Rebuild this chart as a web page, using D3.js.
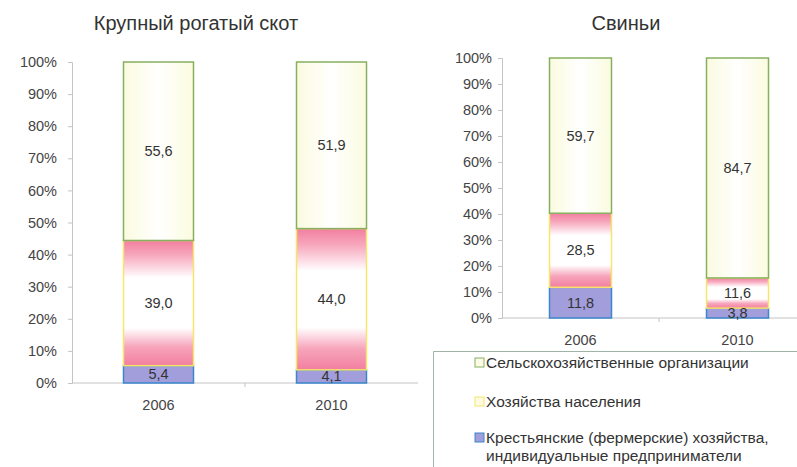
<!DOCTYPE html>
<html>
<head>
<meta charset="utf-8">
<script src="https://cdn.jsdelivr.net/npm/d3@7"></script>
<style>
  body { margin: 0; background: #fff; }
  svg { font-family: "Liberation Sans", Arial, sans-serif; }
</style>
</head>
<body>
<div id="chart"></div>
<script>
// data
const years = ["2006", "2010"];
const seriesKeys = ["farm", "house", "org"];
const seriesNames = [
    "Сельскохозяйственные организации",
    "Хозяйства населения",
    "Крестьянские (фермерские) хозяйства,|индивидуальные предприниматели"
];
const cattleFarm = [5.4, 4.1];
const cattleHouse = [39.0, 44.0];
const cattleOrg = [55.6, 51.9];
const pigsFarm = [11.8, 3.8];
const pigsHouse = [28.5, 11.6];
const pigsOrg = [59.7, 84.7];
const yTicks = [0, 10, 20, 30, 40, 50, 60, 70, 80, 90, 100];

const fills = {farm: "#a29ddb", house: "url(#pinkGrad)", org: "url(#greenGrad)"};
const strokes = {farm: "#3b86cc", house: "#f6e56a", org: "#86b060"};

const svg = d3.select("#chart")
    .append("svg")
    .attr("width", 797)
    .attr("height", 467);

// gradients
const defs = svg.append("defs");
let pink = defs.append("linearGradient")
    .attr("id", "pinkGrad")
    .attr("x1", 0).attr("y1", 0).attr("x2", 0).attr("y2", 1);
[[0, "#f27ea0"], [0.12, "#f7a9be"], [0.3, "#ffffff"], [0.7, "#ffffff"], [0.85, "#f7a5bb"], [1, "#f27ea0"]]
    .forEach(s => pink.append("stop").attr("offset", s[0]).attr("stop-color", s[1]));
let green = defs.append("linearGradient")
    .attr("id", "greenGrad")
    .attr("x1", 0).attr("y1", 0).attr("x2", 1).attr("y2", 0);
[[0, "#fbfbe0"], [0.5, "#ffffff"], [1, "#fbfbe0"]]
    .forEach(s => green.append("stop").attr("offset", s[0]).attr("stop-color", s[1]));

function drawChart(opts) {
    let rows = years.map((y, i) => ({year: y, farm: opts.farm[i], house: opts.house[i], org: opts.org[i]}));
    let stacked = d3.stack().keys(seriesKeys)(rows);

    let x = d3.scaleBand()
        .domain(years)
        .range([opts.left, opts.right]);
    let y = d3.scaleLinear()
        .domain([0, 100])
        .range([opts.bottom, opts.top])
        .clamp(true);

    let g = svg.append("g");

    // title
    g.append("text")
        .attr("x", opts.titleX)
        .attr("y", 30)
        .attr("text-anchor", "middle")
        .style("font-size", "20px")
        .style("fill", "#333")
        .text(opts.title);

    // y axis
    let yAxis = g.append("g")
        .attr("transform", "translate(" + opts.left + ",0)")
        .call(d3.axisLeft(y).tickValues(yTicks).tickSize(4).tickPadding(opts.pad).tickFormat(d => d + "%"));
    yAxis.selectAll("path, line").attr("stroke", "#c4c4c4");
    yAxis.selectAll("text").style("font-size", "14.5px").style("fill", "#444").style("font-family", "Liberation Sans, Arial, sans-serif");

    // x axis
    let xAxis = g.append("g")
        .attr("transform", "translate(0," + opts.bottom + ")");
    xAxis.append("line")
        .attr("x1", opts.left).attr("x2", opts.right)
        .attr("stroke", "#c4c4c4");
    xAxis.append("line")
        .attr("x1", x(years[1])).attr("x2", x(years[1]))
        .attr("y1", 0).attr("y2", 4)
        .attr("stroke", "#c4c4c4");
    xAxis.selectAll(".lbl")
        .data(years)
        .enter()
        .append("text")
        .attr("x", d => x(d) + x.bandwidth() / 2)
        .attr("y", opts.labelY - opts.bottom)
        .attr("text-anchor", "middle")
        .style("font-size", "14.5px")
        .style("fill", "#444")
        .text(d => d);

    let bw = opts.barW;
    // bars
    stacked.forEach(layer => {
        g.selectAll(".bar-" + layer.key)
            .data(layer)
            .enter()
            .append("rect")
            .attr("x", d => x(d.data.year) + x.bandwidth() / 2 - bw / 2)
            .attr("y", d => y(d[1]))
            .attr("width", bw)
            .attr("height", d => y(d[0]) - y(d[1]))
            .attr("fill", fills[layer.key])
            .attr("stroke", strokes[layer.key])
            .attr("stroke-width", 1.5);
    });
    // values
    stacked.forEach(layer => {
        g.selectAll(".val-" + layer.key)
            .data(layer)
            .enter()
            .append("text")
            .attr("x", d => x(d.data.year) + x.bandwidth() / 2)
            .attr("y", d => (y(d[0]) + y(d[1])) / 2 + 5)
            .attr("text-anchor", "middle")
            .style("font-size", "14.5px")
            .style("fill", "#333")
            .text(d => (d[1] - d[0]).toFixed(1).replace(".", ","));
    });
}

drawChart({
    title: "Крупный рогатый скот", titleX: 196,
    farm: cattleFarm, house: cattleHouse, org: cattleOrg,
    left: 72, right: 418, top: 62, bottom: 383, barW: 70, pad: 11, labelY: 410
});
drawChart({
    title: "Свиньи", titleX: 626,
    farm: pigsFarm, house: pigsHouse, org: pigsOrg,
    left: 502, right: 816, top: 58, bottom: 318, barW: 62, pad: 6, labelY: 345
});

// legend
let legend = svg.append("g");
legend.append("path")
    .attr("d", "M433.5,467 V351.5 H797")
    .attr("fill", "none")
    .attr("stroke", "#9fb3a6");

let legendItems = [
    {name: seriesNames[0], fill: "#fbfbe6", stroke: "#86b060", y: 368},
    {name: seriesNames[1], fill: "#fffbe0", stroke: "#f6e56a", y: 407},
    {name: seriesNames[2], fill: "#a29ddb", stroke: "#3b86cc", y: 443}
];
legendItems.forEach(item => {
    legend.append("rect")
        .attr("x", 475).attr("y", item.y - 10)
        .attr("width", 9).attr("height", 9)
        .attr("fill", item.fill)
        .attr("stroke", item.stroke);
    item.name.split("|").forEach((line, i) => {
        legend.append("text")
            .attr("x", 486)
            .attr("y", item.y + i * 18)
            .style("font-size", "15.5px")
            .style("fill", "#333")
            .text(line);
    });
});
</script>
</body>
</html>
